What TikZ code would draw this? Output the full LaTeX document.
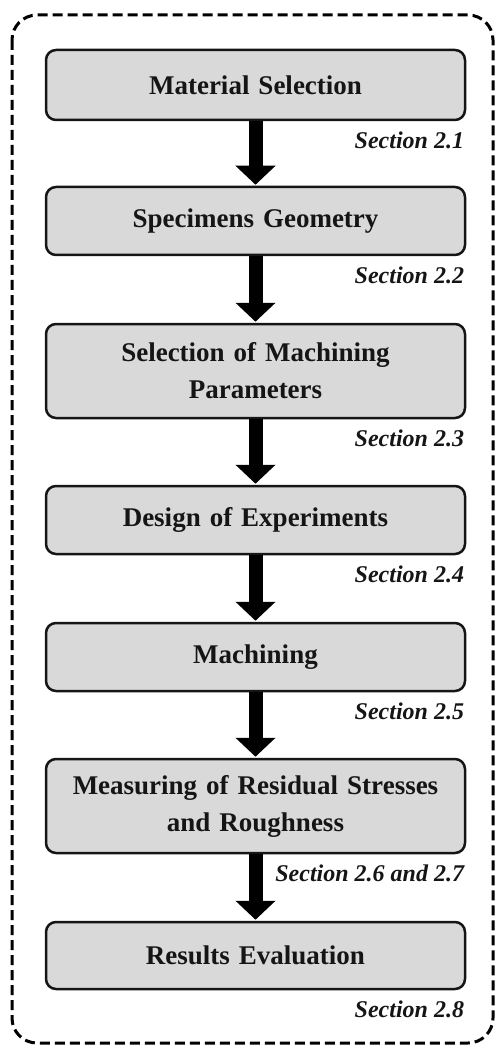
\documentclass[tikz,border=0pt]{standalone}
\usepackage{fontspec}
\setmainfont{Liberation Serif}
\usetikzlibrary{arrows.meta}
\definecolor{boxgray}{HTML}{D9D9D9}
\definecolor{ink}{HTML}{151515}
\begin{document}
\begin{tikzpicture}[x=1pt,y=-1pt,
  stepbox/.style={draw=ink, line width=2.5pt, fill=boxgray, rounded corners=10pt,
    minimum width=419pt, text width=410pt, align=center, inner sep=0pt,
    font=\fontsize{27}{37}\selectfont\bfseries, text=ink},
  seclabel/.style={anchor=base east, inner sep=0pt,
    font=\fontsize{24}{28}\selectfont\bfseries\itshape, text=ink},
  flowarrow/.style={draw=black, line width=14pt,
    -{Triangle[width=39pt,length=19pt]}, shorten >=1pt},
  frame/.style={draw=black, line width=3pt, dash pattern=on 10pt off 5pt, rounded corners=25pt}
]
\useasboundingbox (0,0) rectangle (495,1048);
\draw[frame] (12,15) rectangle (493,1043);

\node[stepbox, minimum height=70pt] (b1) at (255.5,85) {Material Selection};
\node[stepbox, minimum height=68pt] (b2) at (255.5,221) {Specimens Geometry};
\node[stepbox, minimum height=94pt] (b3) at (255.5,371) {Selection of Machining\\Parameters};
\node[stepbox, minimum height=68pt] (b4) at (255.5,520) {Design of Experiments};
\node[stepbox, minimum height=68pt] (b5) at (255.5,657) {Machining};
\node[stepbox, minimum height=94pt] (b6) at (255.5,806) {Measuring of Residual Stresses\\and Roughness};
\node[stepbox, minimum height=67pt] (b7) at (255.5,955.5) {Results Evaluation};

\foreach \b/\t in {b1/2.1, b2/2.2, b3/2.3, b4/2.4, b5/2.5, b6/2.6 and 2.7, b7/2.8}
  \node[seclabel] (s\b) at ([xshift=-2pt,yshift=-27pt]\b.south east) {Section \t};

\foreach \a/\b in {b1/b2, b2/b3, b3/b4, b4/b5, b5/b6, b6/b7}
  \draw[flowarrow] (\a.south) -- (\b.north);
\end{tikzpicture}
\end{document}
